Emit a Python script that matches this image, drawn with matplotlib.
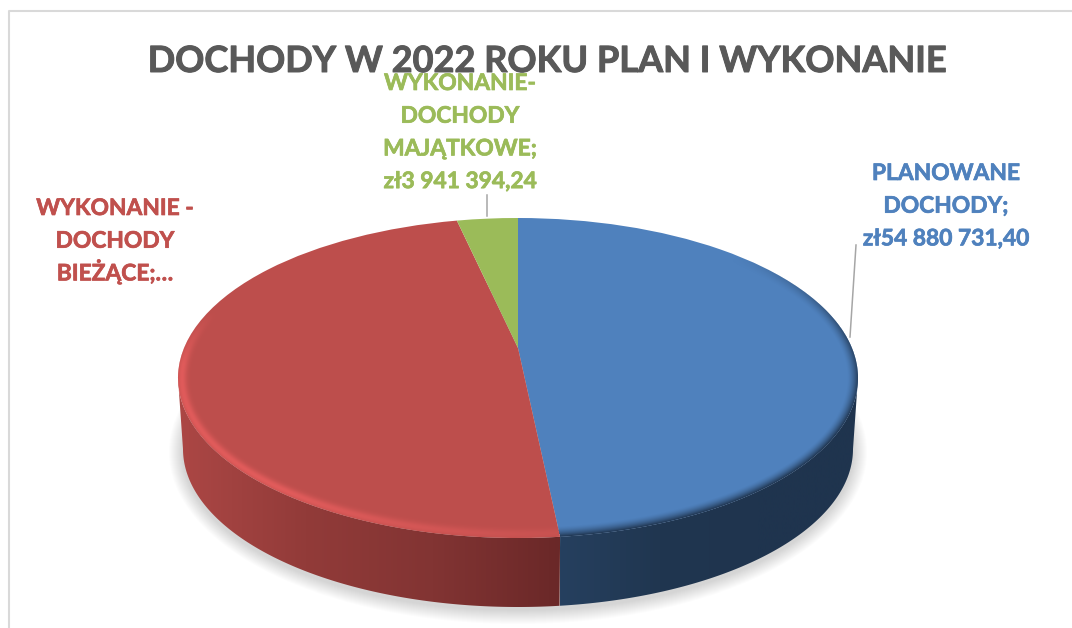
import numpy as np
import matplotlib
matplotlib.use('Agg')
import matplotlib.pyplot as plt
import matplotlib.patheffects as pe
from matplotlib.colors import LinearSegmentedColormap
from matplotlib.patches import Ellipse, Polygon
from matplotlib.transforms import Affine2D, Transform

plt.rcParams['font.family'] = ['Lato', 'DejaVu Sans']

# ------------------------------
# 1. Data
# ------------------------------
title = 'DOCHODY W 2022 ROKU PLAN I WYKONANIE'
names = [['PLANOWANE', 'DOCHODY;', 'zł54 880 731,40'],
         ['WYKONANIE -', 'DOCHODY', 'BIEŻĄCE;…'],
         ['WYKONANIE-', 'DOCHODY', 'MAJĄTKOWE;', 'zł3 941 394,24']]
values = [54880731.40, 54650000.00, 3941394.24]  # middle one is cut off in the label, estimated
colors = ['#4F81BD', '#BD4E4C', '#9BBB59']

# pie geometry in image pixels
cx, cy, rx, ry = 518, 378, 340, 160
bottom_cy, bottom_rx, bottom_ry = 449, 335, 158
tilt = 0.1875


class TiltTransform(Transform):
    # perspective of the unit circle, moves the pie apex up and keeps the outline
    input_dims = 2
    output_dims = 2

    def transform_non_affine(self, xy):
        xy = np.asarray(xy)
        d = 1 + tilt * xy[:, 1]
        return np.column_stack((xy[:, 0] * np.sqrt(1 - tilt ** 2) / d, (xy[:, 1] + tilt) / d))


def top_edge(t):
    # t in degrees, clockwise from the top of the ellipse
    r = np.radians(t)
    return cx + rx * np.sin(r), cy - ry * np.cos(r)


def bottom_edge(t):
    r = np.radians(t)
    return cx + bottom_rx * np.sin(r), bottom_cy - bottom_ry * np.cos(r)


# ------------------------------
# 2. Figure
# ------------------------------
fig = plt.figure(figsize=(10.72, 6.28), dpi=100)
ax = fig.add_axes([0, 0, 1, 1])

wedges, _ = ax.pie(values, colors=colors, startangle=90, counterclock=False,
                   wedgeprops={'linewidth': 0, 'zorder': 3})
to_px = TiltTransform() + Affine2D().scale(rx, -ry).translate(cx, cy) + ax.transData
for w in wedges:
    w.set_transform(to_px)

# screen angle of the blue/red border on the outline
true_a = np.radians(values[0] / sum(values) * 360)
border = TiltTransform().transform_non_affine(np.array([[np.sin(true_a), np.cos(true_a)]]))[0]
t_b = np.degrees(np.arctan2(border[0], border[1]))

# ------------------------------
# 3. Shadow and side wall
# ------------------------------
for d in range(14, 0, -1):
    ax.add_patch(Ellipse((cx, bottom_cy + 3), 2 * (bottom_rx + d), 2 * (bottom_ry + d),
                         fc='#808080', ec='none', alpha=0.022, zorder=1))

red_wall = LinearSegmentedColormap.from_list('red_wall', ['#AC4745', '#923B39', '#823433', '#6A2828'])
blue_wall = LinearSegmentedColormap.from_list('blue_wall', ['#26405F', '#203650', '#1F344E', '#1F344E'])


def draw_wall(t0, t1, cmap, x0, x1):
    ts = np.linspace(t0, t1, 200)
    top = np.column_stack(top_edge(ts))
    low = np.column_stack(bottom_edge(ts[::-1]))
    poly = Polygon(np.vstack((top, low)), closed=True, transform=ax.transData, fc='none', ec='none')
    ax.add_patch(poly)
    im = ax.imshow(np.linspace(0, 1, 256)[None, :], extent=(x0, x1, 628, 200), cmap=cmap,
                   aspect='auto', zorder=2)
    im.set_clip_path(poly)


draw_wall(t_b, 270, red_wall, 178, top_edge(t_b)[0])
draw_wall(90, t_b, blue_wall, top_edge(t_b)[0], 858)

# ------------------------------
# 4. Bevel on the rim of the top face
# ------------------------------
px, py = np.meshgrid(np.arange(1072) + 0.5, np.arange(628) + 0.5)
u = (px - cx) / rx
v = (py - cy) / ry
rho = np.hypot(u, v)
T = np.degrees(np.arctan2(u, -v)) % 360
sin2 = np.sin(np.radians(T)) ** 2
D = (1 - rho) / (sin2 / rx + (1 - sin2) / ry)  # distance in from the edge, px

is_red = (T > t_b) & (T < 300)
# red side gets a soft light ridge, blue side fades to the dark wall
red_amount = np.interp(T, [t_b, 225, 275, 295], [0.25, 0.85, 0.8, 0]) * np.exp(-((D - 4) / 4.8) ** 2)
blue_amount = np.interp(T, [40, 75, 110, t_b], [0, 0.75, 1, 1]) * np.clip(1 - D / 11, 0, 1) ** 1.6
blue_amount = np.where(T > t_b, 0, blue_amount)

rim = np.zeros(px.shape + (4,))
rim[is_red] = (232 / 255, 94 / 255, 94 / 255, 0)
rim[~is_red] = (31 / 255, 52 / 255, 78 / 255, 0)
rim[..., 3] = np.where(is_red, red_amount, blue_amount) * np.clip(D + 0.5, 0, 1)
ax.imshow(rim, extent=(0, 1072, 628, 0), interpolation='bilinear', aspect='auto', zorder=4)

# ------------------------------
# 5. Text, leader lines, border
# ------------------------------
ax.text(547, 72, title, color='#595959', fontsize=26, fontweight='bold', ha='center', va='baseline', zorder=6,
        path_effects=[pe.withStroke(linewidth=0.7, foreground='#595959')])


def draw_label(lines, x, first_y, color):
    # lines are placed one by one, the line gap of the reference is even
    for i, line in enumerate(lines):
        ax.text(x, first_y + i * 32.7, line, color=color, fontsize=16.4, fontweight='bold',
                ha='center', va='baseline', zorder=6,
                path_effects=[pe.withStroke(linewidth=0.5, foreground=color)])


draw_label(names[0], 946, 180, colors[0])
draw_label(names[1], 115, 215, '#C0504D')
draw_label(names[2], 460, 90, colors[2])

ax.plot([856, 850], [245, 337], color='#A6A6A6', lw=1.1, zorder=5)
ax.plot([487, 487], [195, 216], color='#A6A6A6', lw=1.1, zorder=5)
ax.plot([9, 9, 1072], [628, 11, 11], color='#D9D9D9', lw=1.5, zorder=5)

ax.set_aspect('auto')
ax.set_xlim(0, 1072)
ax.set_ylim(628, 0)
ax.axis('off')

fig.savefig('out.png', dpi=100)
